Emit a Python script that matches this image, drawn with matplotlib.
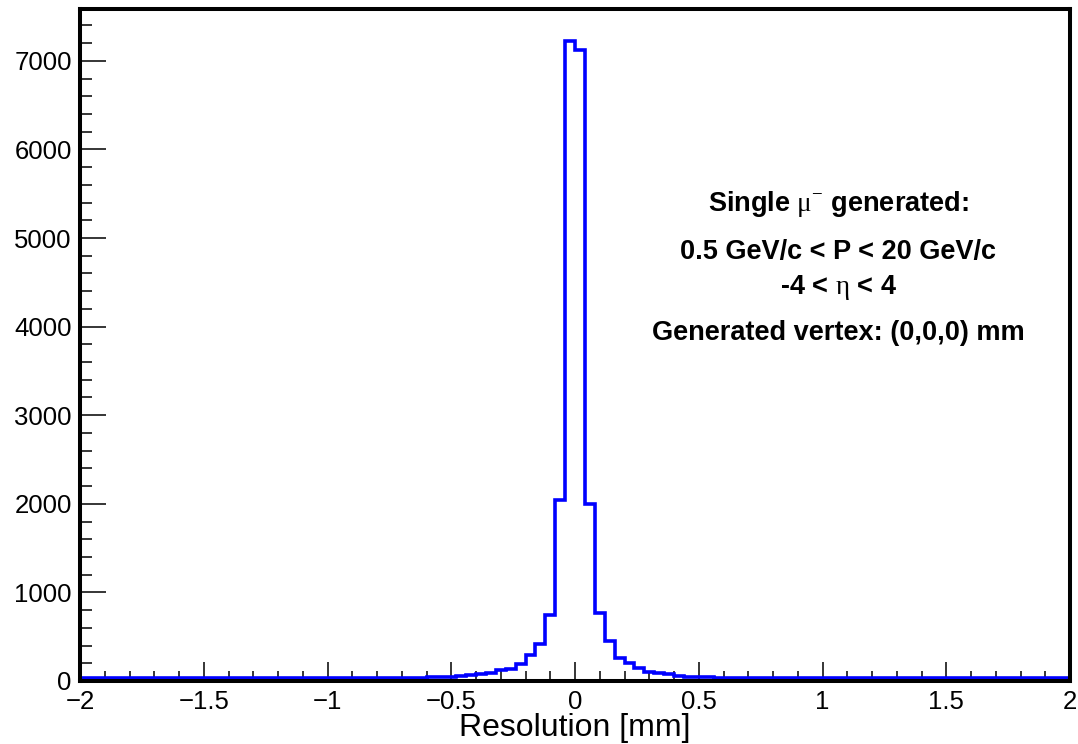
import matplotlib
matplotlib.use('Agg')
import matplotlib.pyplot as plt
import numpy as np
from matplotlib.ticker import MultipleLocator

plt.rcParams['font.family'] = ['Liberation Sans', 'DejaVu Sans']
plt.rcParams['mathtext.fontset'] = 'custom'
plt.rcParams['mathtext.rm'] = 'Liberation Serif'

# 100 bins from -2 to 2 mm (width 0.04)
x_lo, x_hi, n_bins = -2.0, 2.0, 100
left_tail = [30, 30, 30, 30, 30, 30, 30, 30, 30, 30,
             30, 30, 30, 30, 30, 30, 30, 30, 30, 30,
             31, 31, 31, 32, 32, 32, 33, 33, 34, 34,
             35, 38, 36, 37, 39, 41, 45, 49, 53, 64,
             75, 94, 120, 139, 188, 290, 414, 745, 2043, 7225]
right_tail = [7124, 1993, 765, 450, 263, 200, 143, 101, 86, 75,
              60, 49, 45, 41, 38, 36, 35, 34, 33, 33,
              32, 32, 32, 31, 31, 31, 31, 30, 30, 30,
              30, 30, 30, 30, 30, 30, 30, 30, 30, 30,
              30, 30, 30, 30, 30, 30, 30, 30, 30, 30]
counts = np.array(left_tail + right_tail)
edges = np.linspace(x_lo, x_hi, n_bins + 1)

fig = plt.figure(figsize=(10.78, 7.44), dpi=100)
ax = fig.add_axes([80/1078, 63/744, 990/1078, 672/744])

ax.stairs(counts, edges, color='#0000ff', lw=2.6, zorder=2)

ax.set_xlim(x_lo, x_hi)
ax.set_ylim(0, 7585)
ax.xaxis.set_major_locator(MultipleLocator(0.5))
ax.xaxis.set_minor_locator(MultipleLocator(0.1))
ax.yaxis.set_major_locator(MultipleLocator(1000))
ax.yaxis.set_minor_locator(MultipleLocator(200))
ax.xaxis.set_major_formatter(plt.FuncFormatter(lambda v, p: ('%g' % v).replace('-', '\u2212')))

ax.tick_params(axis='both', which='both', direction='in', width=1.1, colors='black', labelsize=18.5)
ax.tick_params(axis='y', which='major', length=19, pad=6)
ax.tick_params(axis='y', which='minor', length=8.5)
ax.tick_params(axis='x', which='major', length=14, pad=6.5)
ax.tick_params(axis='x', which='minor', length=7)

for s in ax.spines.values():
    s.set_linewidth(2.9)
    s.set_zorder(3)

ax.set_xlabel('Resolution [mm]', fontsize=23, labelpad=-1)

info = [r'Single $\mathrm{\mu}^{-}$ generated:',
        '0.5 GeV/c < P < 20 GeV/c',
        r'-4 < $\mathrm{\eta}$ < 4',
        'Generated vertex: (0,0,0) mm']
info_y = [5386, 4844, 4437, 3929]
for t, yy in zip(info, info_y):
    ax.text(1.063, yy, t, ha='center', va='center', fontsize=19.5, fontweight='bold')

fig.savefig('out.png', dpi=100)
